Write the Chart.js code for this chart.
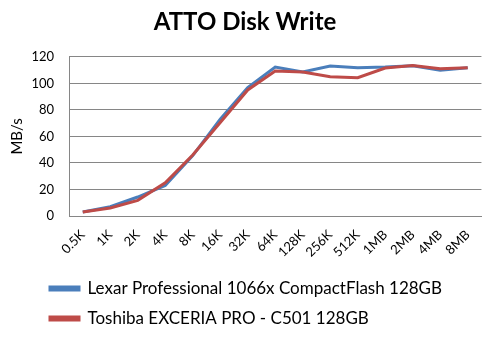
<!DOCTYPE html>
<html><head><meta charset="utf-8">
<script src="https://cdn.jsdelivr.net/npm/chart.js@4/dist/chart.umd.min.js"></script>
<style>html,body{margin:0;padding:0;background:#fff}#w{width:490px;height:340px}</style>
</head><body><div id="w"><canvas id="c"></canvas></div>
<script>
const categories = ['0.5K','1K','2K','4K','8K','16K','32K','64K','128K','256K','512K','1MB','2MB','4MB','8MB'];
const lexar = [3, 7, 14.3, 23, 45.5, 73, 96.8, 112.3, 108.5, 113, 111.8, 112.3, 113.3, 109.8, 111.8];
const toshiba = [3, 6, 11.8, 25, 46, 70.5, 95, 109.3, 108.5, 105, 104.3, 111.5, 113.5, 111, 111.8];
const yTicks = [0, 20, 40, 60, 80, 100, 120];
const seriesNames = ['Lexar Professional 1066x CompactFlash 128GB', 'Toshiba EXCERIA PRO - C501 128GB'];

const legendShift = {
  id: 'legendShift',
  afterLayout(chart) { if (chart.legend) { chart.legend.left = 37; } }
};

new Chart(document.getElementById('c'), {
  type: 'line',
  data: {
    labels: categories,
    datasets: [
      {label: seriesNames[0], data: lexar, order: 2, borderColor: '#4a7ebb', backgroundColor: '#4a7ebb', borderWidth: 3, pointRadius: 0, tension: 0},
      {label: seriesNames[1], data: toshiba, order: 1, borderColor: '#be4b48', backgroundColor: '#be4b48', borderWidth: 3, pointRadius: 0, tension: 0}
    ]
  },
  options: {
    responsive: true, maintainAspectRatio: false, animation: false,
    layout: {padding: {left: 8, right: 8, top: 8, bottom: 3}},
    plugins: {
      title: {display: true, text: 'ATTO Disk Write', color: '#000', font: {family: 'Lato', size: 24, weight: 'bold'}, padding: {top: 0, bottom: 20}},
      legend: {position: 'bottom', align: 'start',
        labels: {color: '#000', font: {family: 'Lato', size: 17}, boxWidth: 29, boxHeight: 3, padding: 13,
          sort: (a, b) => a.datasetIndex - b.datasetIndex}},
      tooltip: {enabled: false}
    },
    scales: {
      x: {
        offset: true,
        afterFit(ax) { ax.height = 51; },
        grid: {display: false, drawTicks: false},
        border: {display: true, color: '#868686'},
        ticks: {color: '#000', font: {family: 'Lato', size: 13}, minRotation: 45, maxRotation: 45, padding: 11}
      },
      y: {
        min: 0, max: 120,
        afterBuildTicks(ax) { ax.ticks = yTicks.map(v => ({value: v})); },
        afterFit(ax) { ax.width = 61; },
        grid: {color: '#868686', drawTicks: false},
        border: {display: true, color: '#868686'},
        ticks: {color: '#000', font: {family: 'Lato', size: 13}, padding: 15},
        title: {display: true, text: 'MB/s', color: '#000', font: {family: 'Lato', size: 15}, padding: {top: 0, bottom: 0}}
      }
    }
  },
  plugins: [legendShift]
});
</script></body></html>
